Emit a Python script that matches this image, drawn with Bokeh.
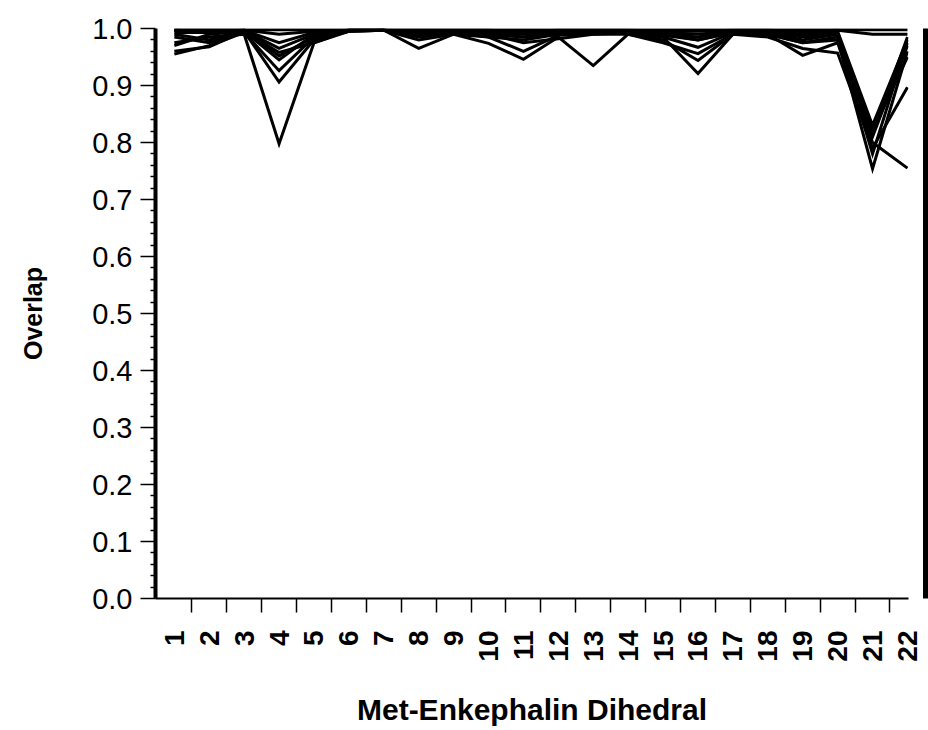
from math import pi

from bokeh.embed import file_html
from bokeh.models import FixedTicker, LinearAxis, PrintfTickFormatter, Range1d
from bokeh.plotting import figure
from bokeh.resources import INLINE

# Met-enkephalin dihedral index and its tick labels
dihedrals = list(range(1, 23))
dihedral_labels = [str(d) for d in dihedrals]

# Overlap per dihedral for each pair of runs
run_a = [0.975, 0.985, 0.990, 0.798, 0.975, 0.995, 0.997, 0.990, 0.993, 0.990, 0.985,
         0.990, 0.993, 0.993, 0.990, 0.980, 0.993, 0.993, 0.985, 0.990, 0.810, 0.970]
run_b = [0.960, 0.968, 0.995, 0.906, 0.980, 0.995, 0.997, 0.965, 0.990, 0.985, 0.960,
         0.988, 0.990, 0.993, 0.985, 0.921, 0.990, 0.990, 0.975, 0.980, 0.754, 0.960]
run_c = [0.955, 0.970, 0.993, 0.926, 0.985, 0.995, 0.997, 0.980, 0.990, 0.974, 0.946,
         0.985, 0.935, 0.990, 0.980, 0.944, 0.990, 0.990, 0.953, 0.975, 0.800, 0.755]
run_d = [0.985, 0.975, 0.995, 0.945, 0.990, 0.997, 0.997, 0.985, 0.990, 0.990, 0.975,
         0.982, 0.990, 0.990, 0.975, 0.956, 0.990, 0.985, 0.965, 0.957, 0.790, 0.897]
run_e = [0.990, 0.980, 0.997, 0.952, 0.985, 0.997, 0.997, 0.988, 0.993, 0.985, 0.980,
         0.990, 0.993, 0.993, 0.985, 0.967, 0.993, 0.990, 0.975, 0.985, 0.780, 0.975]
run_f = [0.970, 0.990, 0.995, 0.958, 0.975, 0.997, 0.997, 0.990, 0.993, 0.990, 0.985,
         0.993, 0.993, 0.993, 0.988, 0.980, 0.993, 0.993, 0.980, 0.990, 0.815, 0.985]
run_g = [0.997, 0.997, 0.997, 0.965, 0.990, 0.997, 0.997, 0.993, 0.995, 0.993, 0.990,
         0.993, 0.995, 0.995, 0.990, 0.985, 0.995, 0.993, 0.988, 0.992, 0.820, 0.950]
run_h = [0.993, 0.993, 0.997, 0.975, 0.993, 0.997, 0.997, 0.995, 0.995, 0.995, 0.993,
         0.995, 0.995, 0.995, 0.993, 0.990, 0.995, 0.995, 0.992, 0.995, 0.830, 0.980]
run_i = [0.997, 0.995, 0.997, 0.990, 0.995, 0.997, 0.997, 0.997, 0.997, 0.997, 0.995,
         0.997, 0.997, 0.997, 0.995, 0.995, 0.997, 0.997, 0.995, 0.997, 0.990, 0.990]
run_j = [0.998, 0.998, 0.998, 0.998, 0.998, 0.998, 0.998, 0.998, 0.998, 0.998, 0.998,
         0.998, 0.998, 0.998, 0.998, 0.998, 0.998, 0.998, 0.998, 0.998, 0.998, 0.998]

runs = [run_a, run_b, run_c, run_d, run_e, run_f, run_g, run_h, run_i, run_j]

y_major = [0.0, 0.1, 0.2, 0.3, 0.4, 0.5, 0.6, 0.7, 0.8, 0.9, 1.0]
y_minor = [round(0.02 * k, 2) for k in range(51) if k % 5 != 0]

FONT = "Liberation Sans"

p = figure(
    width=928, height=730,
    x_range=Range1d(0.46, 22.03), y_range=Range1d(0.0, 1.0),
    output_backend="svg", toolbar_location=None,
    min_border_left=155, min_border_right=20,
    min_border_top=28, min_border_bottom=132,
)
p.outline_line_color = None
p.xgrid.visible = False
p.ygrid.visible = False
p.background_fill_color = "white"
p.border_fill_color = "white"

for run in runs:
    p.line(dihedrals, run, line_color="black", line_width=3, line_join="miter")

# x axis: labels at each dihedral, tick marks between them
xa = p.xaxis[0]
xa.ticker = FixedTicker(ticks=dihedrals, minor_ticks=[d + 0.5 for d in dihedrals[:-1]])
xa.major_label_overrides = {d: lab for d, lab in zip(dihedrals, dihedral_labels)}
xa.major_label_orientation = pi / 2
xa.major_tick_line_color = None
xa.major_tick_out = 0
xa.major_tick_in = 0
xa.minor_tick_out = 14
xa.minor_tick_in = 0
xa.minor_tick_line_color = "black"
xa.minor_tick_line_width = 1.5
xa.axis_line_width = 2
xa.major_label_standoff = 18
xa.major_label_text_font = FONT
xa.major_label_text_font_style = "bold"
xa.major_label_text_font_size = "28px"
xa.major_label_text_color = "black"
xa.axis_label = "Met-Enkephalin Dihedral"
xa.axis_label_text_font = FONT
xa.axis_label_text_font_style = "bold"
xa.axis_label_text_font_size = "30px"
xa.axis_label_text_color = "black"
xa.axis_label_standoff = 28

# y axis
ya = p.yaxis[0]
ya.ticker = FixedTicker(ticks=y_major, minor_ticks=y_minor)
ya.formatter = PrintfTickFormatter(format="%.1f")
ya.major_tick_out = 15
ya.major_tick_in = 0
ya.minor_tick_out = 5
ya.minor_tick_in = 0
ya.major_tick_line_width = 1.5
ya.minor_tick_line_width = 1.5
ya.axis_line_width = 4
ya.major_label_standoff = 8
ya.major_label_text_font = FONT
ya.major_label_text_font_size = "29px"
ya.major_label_text_color = "black"
ya.axis_label = "Overlap"
ya.axis_label_text_font = FONT
ya.axis_label_text_font_style = "bold"
ya.axis_label_text_font_size = "25px"
ya.axis_label_text_color = "black"
ya.axis_label_standoff = 42

# heavy rule along the right-hand side of the panel: a blank spacer axis
# pushes a bare axis outward, and that axis's line is the rule
spacer = LinearAxis(ticker=FixedTicker(ticks=[0.5]), axis_line_color=None,
                    major_tick_out=17, major_tick_in=0, minor_tick_out=0, minor_tick_in=0,
                    major_tick_line_color=None, minor_tick_line_color=None,
                    major_label_standoff=0, major_label_overrides={0.5: "."},
                    major_label_text_color=None, major_label_text_font_size="4px")
rule = LinearAxis(ticker=FixedTicker(ticks=[]), axis_line_color="black", axis_line_width=5,
                  major_tick_out=0, major_tick_in=0, minor_tick_out=0, minor_tick_in=0,
                  major_tick_line_color=None, minor_tick_line_color=None,
                  major_label_text_font_size="0px")
p.add_layout(spacer, "right")
p.add_layout(rule, "right")

open("out.html", "w").write(file_html(p, INLINE))
